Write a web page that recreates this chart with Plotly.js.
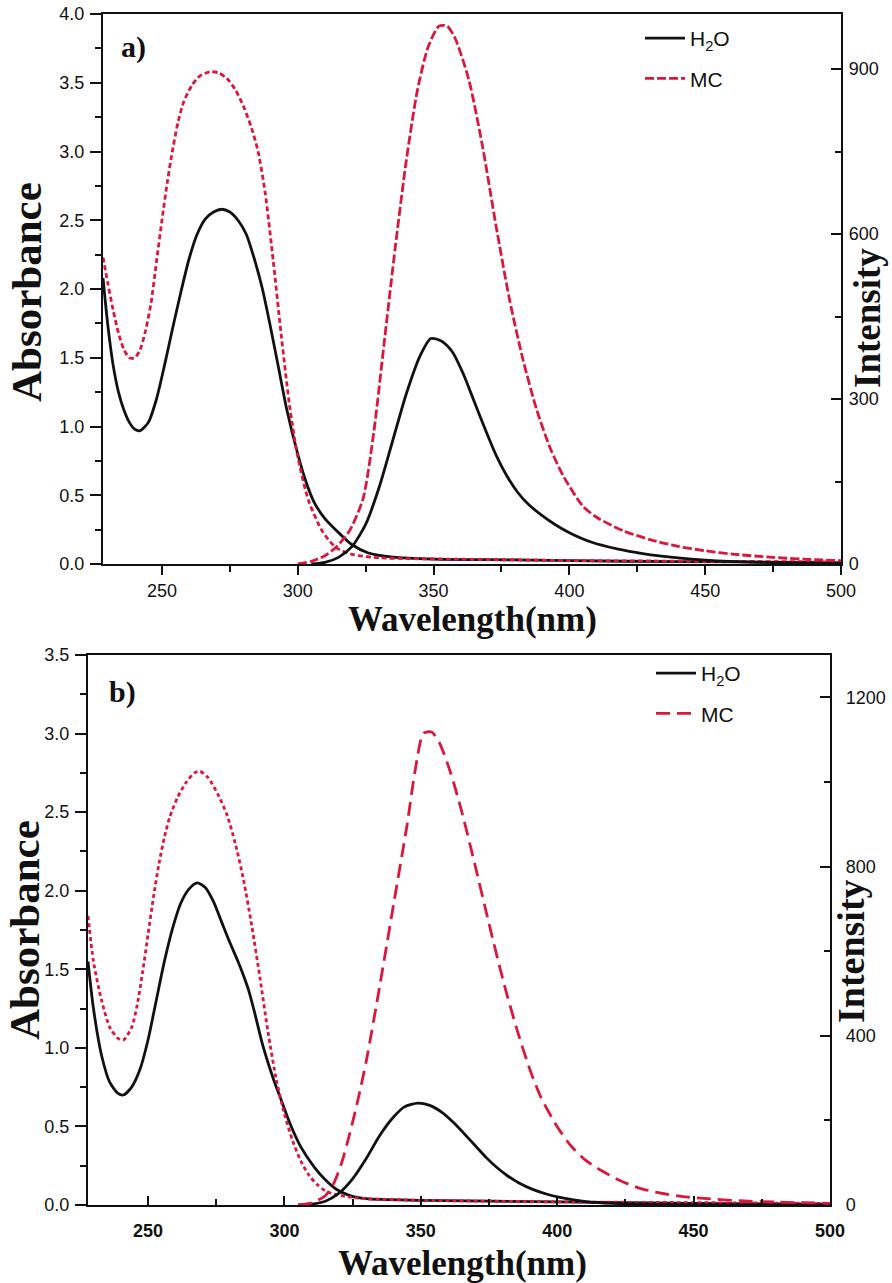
<!DOCTYPE html>
<html>
<head>
<meta charset="utf-8">
<script src="https://cdn.plot.ly/plotly-3.0.1.min.js"></script>
<style>html,body{margin:0;padding:0;background:#fff;}#chart{width:892px;height:1283px;}</style>
</head>
<body>
<div id="chart"></div>
<script>
// ---------- Panel a) absorbance ----------
const wlAbsH2O_a = [228.3,230,232,234,236,238,240,242,245,248,251,254,257,260,263,266,269,272,275,278,281,284,287,290,293,296,300,303,306,310,316,320,326,335,350,380,420,460,500];
const absH2O_a   = [2.08,1.75,1.45,1.25,1.12,1.03,0.98,0.97,1.03,1.2,1.45,1.72,1.98,2.22,2.4,2.51,2.56,2.58,2.56,2.5,2.4,2.22,2.0,1.72,1.42,1.12,0.8,0.6,0.45,0.33,0.21,0.14,0.08,0.05,0.035,0.03,0.02,0.015,0.01];
const wlAbsMC_a  = [228.3,230,232,234,236,238,240,242,244,246,248,250,252,254,256,258,261,264,268,271,274,277,280,283,285.4,288,291,294,297,300,304,309,314,320,330,360,400,450,500];
const absMC_a    = [2.23,2.05,1.85,1.68,1.56,1.5,1.5,1.56,1.7,1.9,2.2,2.5,2.78,3.02,3.22,3.36,3.48,3.55,3.58,3.57,3.53,3.45,3.33,3.17,3.0,2.7,2.2,1.65,1.15,0.78,0.46,0.24,0.12,0.07,0.045,0.035,0.025,0.02,0.015];
// ---------- Panel a) emission ----------
const wlEmH2O_a  = [305,310,315,320,325,330,335,340,345,349,353,357,361,365,369,373,377,381,385,390,395,400,408,418,427,440,450,470,500];
const emH2O_a    = [0,3,12,32,72,140,225,310,378,410,405,385,345,295,245,198,160,130,108,88,71,57,40,27,19,11,7,3,1];
const wlEmMC_a   = [300,305,310,314,319,324,328,332,336,340,344,348,352,355,358,363,368,373,378,383,388,393,398,405,410,420,430,440,450,460,475,490,500];
const emMC_a     = [0,5,15,30,60,118,240,410,580,735,860,940,978,978,955,880,760,615,480,370,280,210,158,105,85,60,44,32,24,18,12,8,6];
// ---------- Panel b) absorbance ----------
const wlAbsH2O_b = [228,230,233,236,239,241,244,247,250,253,256,259,262,265,268,271,274,277,280,283,285,287,289,292,296,299,302,306,311,315,319,324,330,350,400,450,500];
const absH2O_b   = [1.55,1.25,0.95,0.78,0.71,0.7,0.75,0.86,1.05,1.3,1.55,1.76,1.92,2.01,2.05,2.02,1.93,1.8,1.67,1.55,1.46,1.36,1.23,1.02,0.8,0.66,0.52,0.37,0.24,0.16,0.1,0.06,0.04,0.03,0.02,0.01,0.005];
const wlAbsMC_b  = [228,230,233,236,239,241,244,246,248,250,252,254,256,258,261,264,267,269,272,276,279,282,285,288,291,294,297,300,303,306,309,312,315,319,324,330,350,400,450,500];
const absMC_b    = [1.84,1.55,1.3,1.13,1.06,1.05,1.13,1.27,1.48,1.72,1.96,2.17,2.34,2.47,2.6,2.69,2.75,2.76,2.72,2.6,2.48,2.3,2.07,1.78,1.45,1.1,0.8,0.58,0.41,0.28,0.19,0.13,0.09,0.065,0.05,0.04,0.03,0.02,0.015,0.01];
// ---------- Panel b) emission ----------
const wlEmH2O_b  = [305,310,315,320,325,330,335,340,344,349,353,358,362,366,370,374,378,382,386,391,396,401,406,412,420,430,450,500];
const emH2O_b    = [0,2,9,28,62,110,165,208,232,241,236,218,195,168,140,112,88,68,52,37,26,18,12,7,4,2,0.5,0];
const wlEmMC_b   = [305,310,315,318,321,324,327,330,335,340,345,348,351,354,357,361,365,370,375,380,385,390,394,400,405,410,416,423,430,438,446,455,467,480,500];
const emMC_b     = [0,5,22,50,100,170,250,340,520,710,900,1030,1115,1118,1090,1020,930,800,665,535,420,320,255,185,140,108,82,58,40,28,20,15,10,7,4];

const BLACK = '#111111', RED = '#da173d';
const LW = 2.8, SM = 0.7;

const traces = [
  {x: wlAbsH2O_a, y: absH2O_a, xaxis:'x', yaxis:'y', mode:'lines', line:{color:BLACK, width:LW, shape:'spline', smoothing:SM}, showlegend:false},
  {x: wlAbsMC_a, y: absMC_a, xaxis:'x', yaxis:'y', mode:'lines', line:{color:RED, width:LW, dash:'5px,3px', shape:'spline', smoothing:SM}, showlegend:false},
  {x: wlEmH2O_a, y: emH2O_a, xaxis:'x', yaxis:'y2', mode:'lines', name:'H<sub>2</sub>O', legend:'legend', legendgroup:'a1', line:{color:BLACK, width:LW, shape:'spline', smoothing:SM}},
  {x: wlEmMC_a, y: emMC_a, xaxis:'x', yaxis:'y2', mode:'lines', name:'MC', legend:'legend', legendgroup:'a2', line:{color:RED, width:LW, dash:'9px,3px', shape:'spline', smoothing:SM}},
  {x: wlAbsH2O_b, y: absH2O_b, xaxis:'x2', yaxis:'y3', mode:'lines', line:{color:BLACK, width:LW, shape:'spline', smoothing:SM}, showlegend:false},
  {x: wlAbsMC_b, y: absMC_b, xaxis:'x2', yaxis:'y3', mode:'lines', line:{color:RED, width:LW, dash:'4px,3px', shape:'spline', smoothing:SM}, showlegend:false},
  {x: wlEmH2O_b, y: emH2O_b, xaxis:'x2', yaxis:'y4', mode:'lines', name:'H<sub>2</sub>O', legend:'legend2', legendgroup:'b1', line:{color:BLACK, width:LW, shape:'spline', smoothing:SM}},
  {x: wlEmMC_b, y: emMC_b, xaxis:'x2', yaxis:'y4', mode:'lines', name:'MC', legend:'legend2', legendgroup:'b2', line:{color:RED, width:LW, dash:'14px,7px', shape:'spline', smoothing:SM}}
];

const W = 892, H = 1283;
const px = v => v / W, py = v => 1 - v / H;
const tickFont = {family:'Liberation Sans, Arial, sans-serif', size:18, color:'#111'};
const boldTick = {family:'Liberation Sans, Arial, sans-serif', size:18, color:'#111', weight:'bold'};

function xAxis(domain, anchor, range, ticks, font, standoff) {
  return {domain, anchor, range, tick0:250, dtick:50, ticks, ticklen:9, tickwidth:2, tickcolor:'#111',
    minor:{dtick:25, ticks, ticklen:6, tickwidth:2, tickcolor:'#111'},
    showline:true, linewidth:2.2, linecolor:'#111', mirror:true, showgrid:false, zeroline:false,
    tickfont:font, ticklabelstandoff:standoff, fixedrange:true};
}
function yLeft(domain, anchor, range) {
  return {domain, anchor, range, dtick:0.5, tickformat:'.1f', ticks:'outside', ticklen:11, tickwidth:2, tickcolor:'#111',
    minor:{dtick:0.25, ticks:'outside', ticklen:6, tickwidth:2, tickcolor:'#111'},
    showline:true, linewidth:2.2, linecolor:'#111', showgrid:false, zeroline:false, tickfont:tickFont, ticklabelstandoff:2};
}
function yRight(overlay, anchor, range, dtick, standoff) {
  return {overlaying:overlay, anchor, side:'right', range, dtick, ticks:'inside', ticklen:10, tickwidth:2, tickcolor:'#111',
    minor:{dtick:dtick/2, ticks:'inside', ticklen:6, tickwidth:2, tickcolor:'#111'},
    showline:true, linewidth:2.2, linecolor:'#111', showgrid:false, zeroline:false, tickfont:tickFont, ticklabelstandoff:standoff};
}

const serif = 'Liberation Serif, Times New Roman, serif';
function ann(text, x, y, size, angle) {
  return {text, x:px(x), y:py(y), xref:'paper', yref:'paper', xanchor:'center', yanchor:'middle', showarrow:false,
    textangle:angle || 0, font:{family:serif, size, color:'#111', weight:'bold'}};
}
const legFont = {family:'Liberation Sans, Arial, sans-serif', size:21, color:'#111'};
const layout = {
  width:W, height:H, margin:{l:0,r:0,t:0,b:0}, paper_bgcolor:'#fff', plot_bgcolor:'#fff',
  xaxis: xAxis([px(103), px(841)], 'y', [228.3, 500], 'outside', tickFont, 0),
  yaxis: yLeft([py(564), py(14)], 'x', [0, 4]),
  yaxis2: yRight('y', 'x', [0, 1000], 300, 2),
  xaxis2: xAxis([px(88), px(830)], 'y3', [228, 500], 'inside', boldTick, 8),
  yaxis3: yLeft([py(1205), py(655)], 'x2', [0, 3.5]),
  yaxis4: yRight('y3', 'x2', [0, 1300], 400, 10),
  legend: {x:px(640), y:py(18), xanchor:'left', yanchor:'top', bgcolor:'rgba(0,0,0,0)', borderwidth:0,
    font:legFont, traceorder:'grouped', tracegroupgap:10, itemwidth:40},
  legend2: {x:px(651), y:py(653), xanchor:'left', yanchor:'top', bgcolor:'rgba(0,0,0,0)', borderwidth:0,
    font:legFont, traceorder:'grouped', tracegroupgap:10, itemwidth:40},
  annotations: [
    ann('a)', 133, 47, 30),
    ann('b)', 122, 692, 30),
    ann('Absorbance', 26, 292, 43, -90),
    ann('Absorbance', 24, 930, 43, -90),
    ann('Intensity', 867, 318, 37, -90),
    ann('Intensity', 851, 951, 38, -90),
    ann('Wavelength(nm)', 472, 619, 35),
    ann('Wavelength(nm)', 462, 1263, 35)
  ]
};

Plotly.newPlot('chart', traces, layout, {displayModeBar:false, staticPlot:true});
</script>
</body>
</html>
